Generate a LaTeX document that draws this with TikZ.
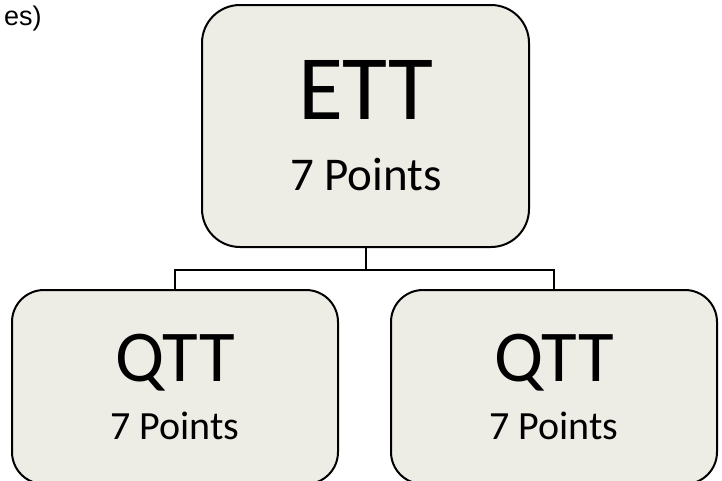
\documentclass[tikz,border=0pt]{standalone}
\usepackage{fontspec}
\setmainfont{Carlito}
\newfontfamily\arialfont{Liberation Sans}
\definecolor{boxfill}{RGB}{238,237,229}
\begin{document}
\begin{tikzpicture}[x=1pt,y=-1pt,
  box/.style={draw=black, line width=2pt, fill=boxfill, inner sep=0pt},
  link/.style={draw=black, line width=2pt},
  label/.style={anchor=base, inner sep=0pt}]
\useasboundingbox (0,0) rectangle (722,480);
\clip (0,0) rectangle (722,480);
\node[box, rounded corners=38pt, minimum width=327pt, minimum height=242pt] (ett) at (365.5,126) {};
\node[box, rounded corners=32pt, minimum width=326pt, minimum height=194pt] (qa) at (175,387) {};
\node[box, rounded corners=32pt, minimum width=326pt, minimum height=194pt] (qb) at (554,387) {};
\draw[link] (ett.south) -- ++(0,22) coordinate (j);
\draw[link] (qa.north) |- (j) -| (qb.north);
\node[label, font=\fontsize{92}{92}\selectfont] (ettname) at (366,119) {ETT};
\node[label, font=\fontsize{47}{47}\selectfont] (ettpts) at (366,190) {7 Points};
\node[label, font=\fontsize{73}{73}\selectfont] (qaname) at (175,381) {QTT};
\node[label, font=\fontsize{40}{40}\selectfont] (qapts) at (175,439) {7 Points};
\node[label, font=\fontsize{73}{73}\selectfont] (qbname) at (554,381) {QTT};
\node[label, font=\fontsize{40}{40}\selectfont] (qbpts) at (554,439) {7 Points};
\node[anchor=base west, inner sep=0pt, font=\arialfont\fontsize{27}{27}\selectfont] (cap) at (4,25) {es)};
\end{tikzpicture}
\end{document}
